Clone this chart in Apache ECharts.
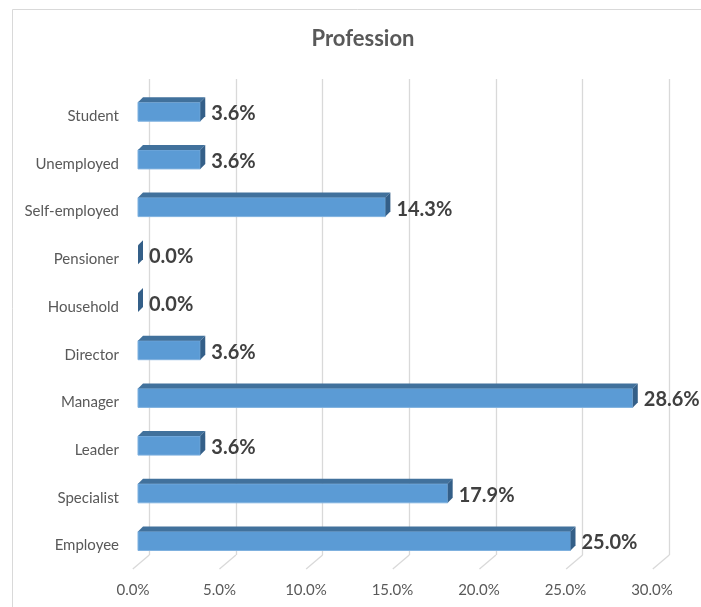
<!DOCTYPE html>
<html>
<head>
<meta charset="utf-8">
<script src="https://cdn.jsdelivr.net/npm/echarts@6/dist/echarts.min.js"></script>
<style>
  html, body { margin: 0; padding: 0; background: #ffffff; }
  #chart { width: 701px; height: 607px; }
</style>
</head>
<body>
<div id="chart"></div>
<script>
// Profession shares (bottom to top, as drawn on the category axis)
const categories = ['Employee', 'Specialist', 'Leader', 'Manager', 'Director',
                    'Household', 'Pensioner', 'Self-employed', 'Unemployed', 'Student'];
const shares = [25.0, 17.9, 3.6, 28.6, 3.6, 0.0, 0.0, 14.3, 3.6, 3.6];
const tickValues = [0, 5, 10, 15, 20, 25, 30];
const chartTitle = 'Profession';

const FONT = 'Lato, "Liberation Sans", sans-serif';
const GRID_COLOR = '#d9d9d9';
const TEXT_GREY = '#595959';

// 3D bar geometry (pixels)
const BAR_H = 19;      // front face height
const DEPTH_X = 5;     // depth offset to the right
const DEPTH_Y = 5;     // depth offset upwards

const FLOOR_DX = -16.5; // back wall -> front floor edge
const FLOOR_DY = 14;

const chart = echarts.init(document.getElementById('chart'), null, { renderer: 'canvas' });

function renderBar(params, api) {
  const v = api.value(0);
  const cat = api.value(1);
  const p0 = api.coord([0, cat]);
  const p1 = api.coord([v, cat]);
  const x0 = p0[0], x1 = p1[0];
  const top = p0[1] - BAR_H / 2;
  const bot = top + BAR_H;
  const children = [];
  if (x1 - x0 > 0.5) {
    children.push({
      type: 'rect',
      shape: { x: x0, y: top, width: x1 - x0, height: BAR_H },
      style: { fill: '#5b9bd5', stroke: '#7fb1df', lineWidth: 1 }
    });
    children.push({
      type: 'polygon',
      shape: { points: [[x0, top], [x0 + DEPTH_X, top - DEPTH_Y], [x1 + DEPTH_X, top - DEPTH_Y], [x1, top]] },
      style: { fill: '#41719c' }
    });
  }
  children.push({
    type: 'polygon',
    shape: { points: [[x1, top], [x1 + DEPTH_X, top - DEPTH_Y], [x1 + DEPTH_X, bot - DEPTH_Y], [x1, bot]] },
    style: { fill: '#345f88' }
  });
  children.push({
    type: 'text',
    x: x1 + DEPTH_X + 6,
    y: p0[1] + 2,
    style: {
      text: v.toFixed(1) + '%',
      fill: '#404040',
      font: 'bold 20px ' + FONT,
      verticalAlign: 'middle',
      align: 'left'
    }
  });
  return { type: 'group', children: children };
}

function renderFloor(params, api) {
  const v = api.value(0);
  const p = api.coord([v, 0]);
  return {
    type: 'line',
    shape: { x1: p[0], y1: p[1], x2: p[0] + FLOOR_DX, y2: p[1] + FLOOR_DY },
    style: { stroke: GRID_COLOR, lineWidth: 1.3 }
  };
}

const option = {
  backgroundColor: '#ffffff',
  animation: false,
  title: {
    text: chartTitle,
    left: 358,
    top: 23,
    textAlign: 'center',
    textStyle: { fontFamily: FONT, fontWeight: 'bold', fontSize: 22, color: TEXT_GREY }
  },
  graphic: [{
    type: 'rect',
    shape: { x: 12.5, y: 9.5, width: 800, height: 800 },
    style: { fill: 'none', stroke: GRID_COLOR, lineWidth: 1 },
    z: -10
  }],
  grid: [
    // back wall: gridlines
    { left: 149.3, top: 79, width: 520, height: 476 },
    // front plane: bars and value ticks
    { left: 138, top: 87.85, width: 519, height: 477 },
    // category names sit slightly below the bar faces
    { left: 138, top: 92.35, width: 519, height: 477 }
  ],
  xAxis: [
    {
      gridIndex: 0, type: 'value', min: 0, max: 30, interval: 5,
      axisLine: { show: false }, axisTick: { show: false }, axisLabel: { show: false },
      splitLine: { show: true, lineStyle: { color: GRID_COLOR, width: 1.3 } }
    },
    {
      gridIndex: 1, type: 'value', min: 0, max: 30, interval: 5,
      axisLine: { show: false }, axisTick: { show: false },
      splitLine: { show: false },
      axisLabel: {
        margin: 18,
        color: TEXT_GREY,
        fontFamily: FONT,
        fontSize: 15,
        padding: [0, 10, 0, 0],
        formatter: function (v) { return v.toFixed(1) + '%'; }
      }
    },
    {
      gridIndex: 2, type: 'value', min: 0, max: 30, show: false
    }
  ],
  yAxis: [
    {
      gridIndex: 0, type: 'value', min: 0, max: 1, show: false
    },
    {
      gridIndex: 1, type: 'category', data: categories,
      axisLine: { show: false }, axisTick: { show: false },
      axisLabel: { show: false }, splitLine: { show: false }
    },
    {
      gridIndex: 2, type: 'category', data: categories,
      axisLine: { show: false }, axisTick: { show: false },
      splitLine: { show: false },
      axisLabel: {
        margin: 19,
        color: TEXT_GREY,
        fontFamily: FONT,
        fontSize: 15
      }
    }
  ],
  series: [
    {
      type: 'custom',
      xAxisIndex: 0, yAxisIndex: 0,
      renderItem: renderFloor,
      data: tickValues.map(function (t) { return [t]; }),
      silent: true,
      z: 1
    },
    {
      type: 'custom',
      xAxisIndex: 1, yAxisIndex: 1,
      renderItem: renderBar,
      encode: { x: 0, y: 1 },
      data: shares.map(function (s, i) { return [s, i]; }),
      z: 5
    }
  ]
};

chart.setOption(option);
</script>
</body>
</html>
